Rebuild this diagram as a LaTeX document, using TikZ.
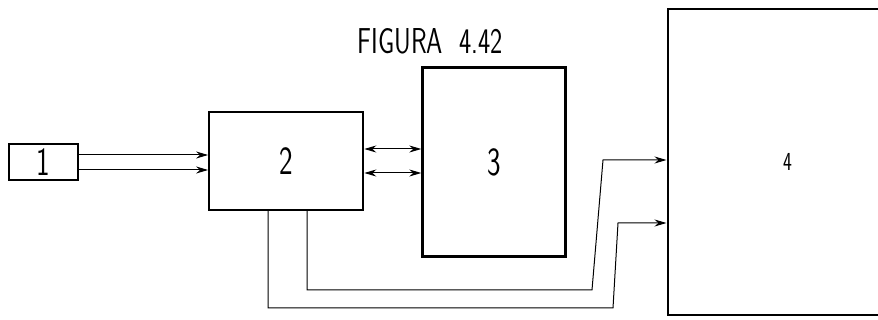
\documentclass[tikz,border=0pt]{standalone}
\usepackage{graphicx}
\usepackage{tikz}
\usetikzlibrary{arrows.meta,positioning,calc}
\newcommand{\narrowtext}[1]{\scalebox{0.72}[1]{#1}}
\tikzset{
  block/.style={rectangle, draw=black, line width=2.2pt, fill=white,
                font=\fontsize{40}{40}\sffamily, text centered, inner sep=0pt},
  flow/.style={-{Stealth[length=12pt,width=7pt]}, line width=1pt, black},
  bothflow/.style={{Stealth[length=12pt,width=7pt]}-{Stealth[length=12pt,width=7pt]}, line width=1pt, black},
  caption/.style={font=\fontsize{36}{36}\sffamily, inner sep=0pt},
}
\begin{document}
\begin{tikzpicture}[x=1pt, y=-1pt, node distance=0pt]

\clip (0,0) rectangle (878,320);
\fill[white] (0,0) rectangle (878,320);

\node[caption] (title) at (430,41) {\narrowtext{FIGURA~~4.42}};

\node[block, minimum width=69pt, minimum height=36pt] (box1) at (43.5,162)
      {\narrowtext{1}};

\node[block, minimum width=154pt, minimum height=98pt, right=129pt of box1,
      yshift=1pt] (box2) {\narrowtext{2}};

\node[block, minimum width=143pt, minimum height=189pt, right=57pt of box2,
      yshift=-1pt] (box3) {\narrowtext{3}};

\node[block, minimum width=240pt, minimum height=306pt, right=100pt of box3,
      font=\fontsize{26}{26}\sffamily] (box4) {\narrowtext{4}};

% 1 to 2
\draw[flow] ([yshift=7pt]box1.east) -- ([yshift=7pt]box1.east -| box2.west);
\draw[flow] ([yshift=-8pt]box1.east) -- ([yshift=-8pt]box1.east -| box2.west);

% 2 and 3, both ways
\draw[bothflow] ([yshift=12pt]box2.east) -- ([yshift=12pt]box2.east -| box3.west);
\draw[bothflow] ([yshift=-12pt]box2.east) -- ([yshift=-12pt]box2.east -| box3.west);

% 2 to 4, under 3
\coordinate (innerlow) at (592,290);
\coordinate (innerhigh) at (603,160);
\coordinate (outerlow) at (613,308);
\coordinate (outerhigh) at (618,223);
\draw[flow] ([xshift=21pt]box2.south) -- ([xshift=21pt]box2.south |- innerlow)
      -- (innerlow) -- (innerhigh) -- (innerhigh -| box4.west);
\draw[flow] ([xshift=-18pt]box2.south) -- ([xshift=-18pt]box2.south |- outerlow)
      -- (outerlow) -- (outerhigh) -- (outerhigh -| box4.west);

\end{tikzpicture}
\end{document}
